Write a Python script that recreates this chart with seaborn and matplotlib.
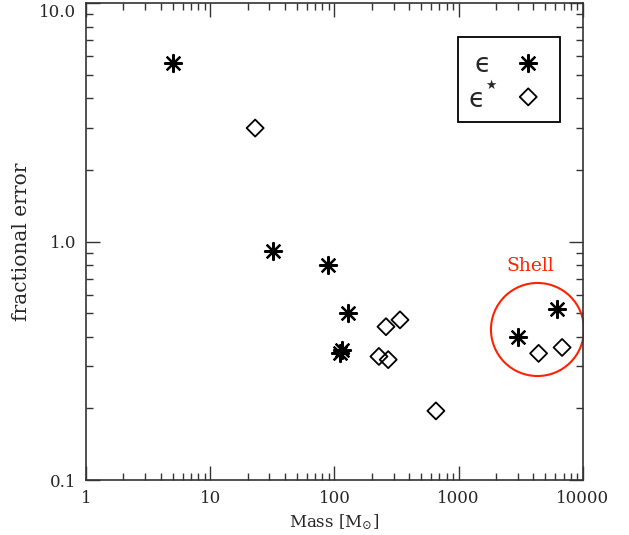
import numpy as np
import pandas as pd
import matplotlib
matplotlib.use("Agg")
import matplotlib.pyplot as plt
from matplotlib.ticker import FixedLocator, FixedFormatter, LogLocator, NullFormatter
from matplotlib.patches import Rectangle
import matplotlib.transforms as mtrans
import seaborn as sns

# ---- data ----
eps_mass = [5.0, 32.0, 89.0, 129.0, 111.0, 114.0, 3000.0, 6200.0]
eps_err = [5.6, 0.91, 0.80, 0.50, 0.34, 0.35, 0.40, 0.52]
epsstar_mass = [23.0, 260.0, 337.0, 228.0, 271.0, 656.0, 4400.0, 6800.0]
epsstar_err = [3.0, 0.44, 0.47, 0.33, 0.32, 0.195, 0.34, 0.36]
shell_center = [4290.0, 0.43]
xticks = [1, 10, 100, 1000, 10000]
xticklabels = ["1", "10", "100", "1000", "10000"]
yticks = [0.1, 1.0, 10.0]
yticklabels = ["0.1", "1.0", "10.0"]

sns.set_style("ticks")
plt.rcParams["font.family"] = ["DejaVu Serif", "DejaVu Sans"]
plt.rcParams["mathtext.fontset"] = "dejavuserif"

fig = plt.figure(figsize=(6.29, 5.35), dpi=100)
ax = fig.add_axes([0.1367, 0.1028, 0.790, 0.8907])

df_e = pd.DataFrame({"mass": eps_mass, "err": eps_err})
df_s = pd.DataFrame({"mass": epsstar_mass, "err": epsstar_err})

ast = (8, 2, 0)
sns.scatterplot(data=df_e, x="mass", y="err", marker=ast, s=150,
                color="black", edgecolor="black", linewidth=1.6, ax=ax, zorder=3)
sns.scatterplot(data=df_s, x="mass", y="err", marker="D", s=75,
                facecolor="none", edgecolor="black", linewidth=1.3, ax=ax, zorder=3)

ax.set_xscale("log")
ax.set_yscale("log")
ax.set_xlim(1, 10000)
ax.set_ylim(0.1, 10)

# shell circle
ax.plot([shell_center[0]], [shell_center[1]], marker="o", markersize=67,
        markerfacecolor="none", markeredgecolor="#ff2200", markeredgewidth=1.5,
        linestyle="none", zorder=2)
ax.text(3795, 0.79, "Shell", color="#ff2200", fontsize=13.5, ha="center", va="center")

# ticks
ax.xaxis.set_major_locator(FixedLocator(xticks))
ax.xaxis.set_major_formatter(FixedFormatter(xticklabels))
ax.yaxis.set_major_locator(FixedLocator(yticks))
ax.yaxis.set_major_formatter(FixedFormatter(yticklabels))
ax.xaxis.set_minor_locator(LogLocator(base=10, subs=np.arange(2, 10)))
ax.yaxis.set_minor_locator(LogLocator(base=10, subs=np.arange(2, 10)))
ax.xaxis.set_minor_formatter(NullFormatter())
ax.yaxis.set_minor_formatter(NullFormatter())
ax.tick_params(which="both", direction="in", top=True, right=True, color="#333333",
               width=1.0, labelsize=12, pad=7)
ax.tick_params(which="major", length=10)
ax.tick_params(which="minor", length=5)
for sp in ax.spines.values():
    sp.set_visible(True)
    sp.set_color("#333333")
    sp.set_linewidth(1.2)

ax.set_xlabel(r"Mass [M$_{\odot}$]", fontsize=12, labelpad=4)
ax.set_ylabel("fractional error", fontsize=14.5, labelpad=6)

fig.canvas.draw()
for lab in ax.get_yticklabels():
    if lab.get_text() == "10.0":
        lab.set_transform(lab.get_transform() + mtrans.ScaledTranslation(0, -5 / 72, fig.dpi_scale_trans))

# legend box
ax.add_patch(Rectangle((0.749, 0.752), 0.205, 0.178, transform=ax.transAxes,
                       facecolor="white", edgecolor="black", linewidth=1.3, zorder=4))
ax.text(0.799, 0.878, "\u03f5", transform=ax.transAxes, fontsize=19,
        ha="center", va="center_baseline", zorder=5, family=["DejaVu Sans"])
ax.text(0.787, 0.804, "\u03f5", transform=ax.transAxes, fontsize=19,
        ha="center", va="center_baseline", zorder=5, family=["DejaVu Sans"])
ax.text(0.815, 0.829, "\u2605", transform=ax.transAxes, fontsize=9,
        ha="center", va="center", zorder=5, family=["DejaVu Sans"])
ax.scatter([0.890], [0.8745], transform=ax.transAxes, marker=ast, s=150,
           color="black", linewidth=1.6, zorder=5)
ax.scatter([0.890], [0.804], transform=ax.transAxes, marker="D", s=75,
           facecolor="none", edgecolor="black", linewidth=1.3, zorder=5)

fig.savefig("out.png", dpi=100)
